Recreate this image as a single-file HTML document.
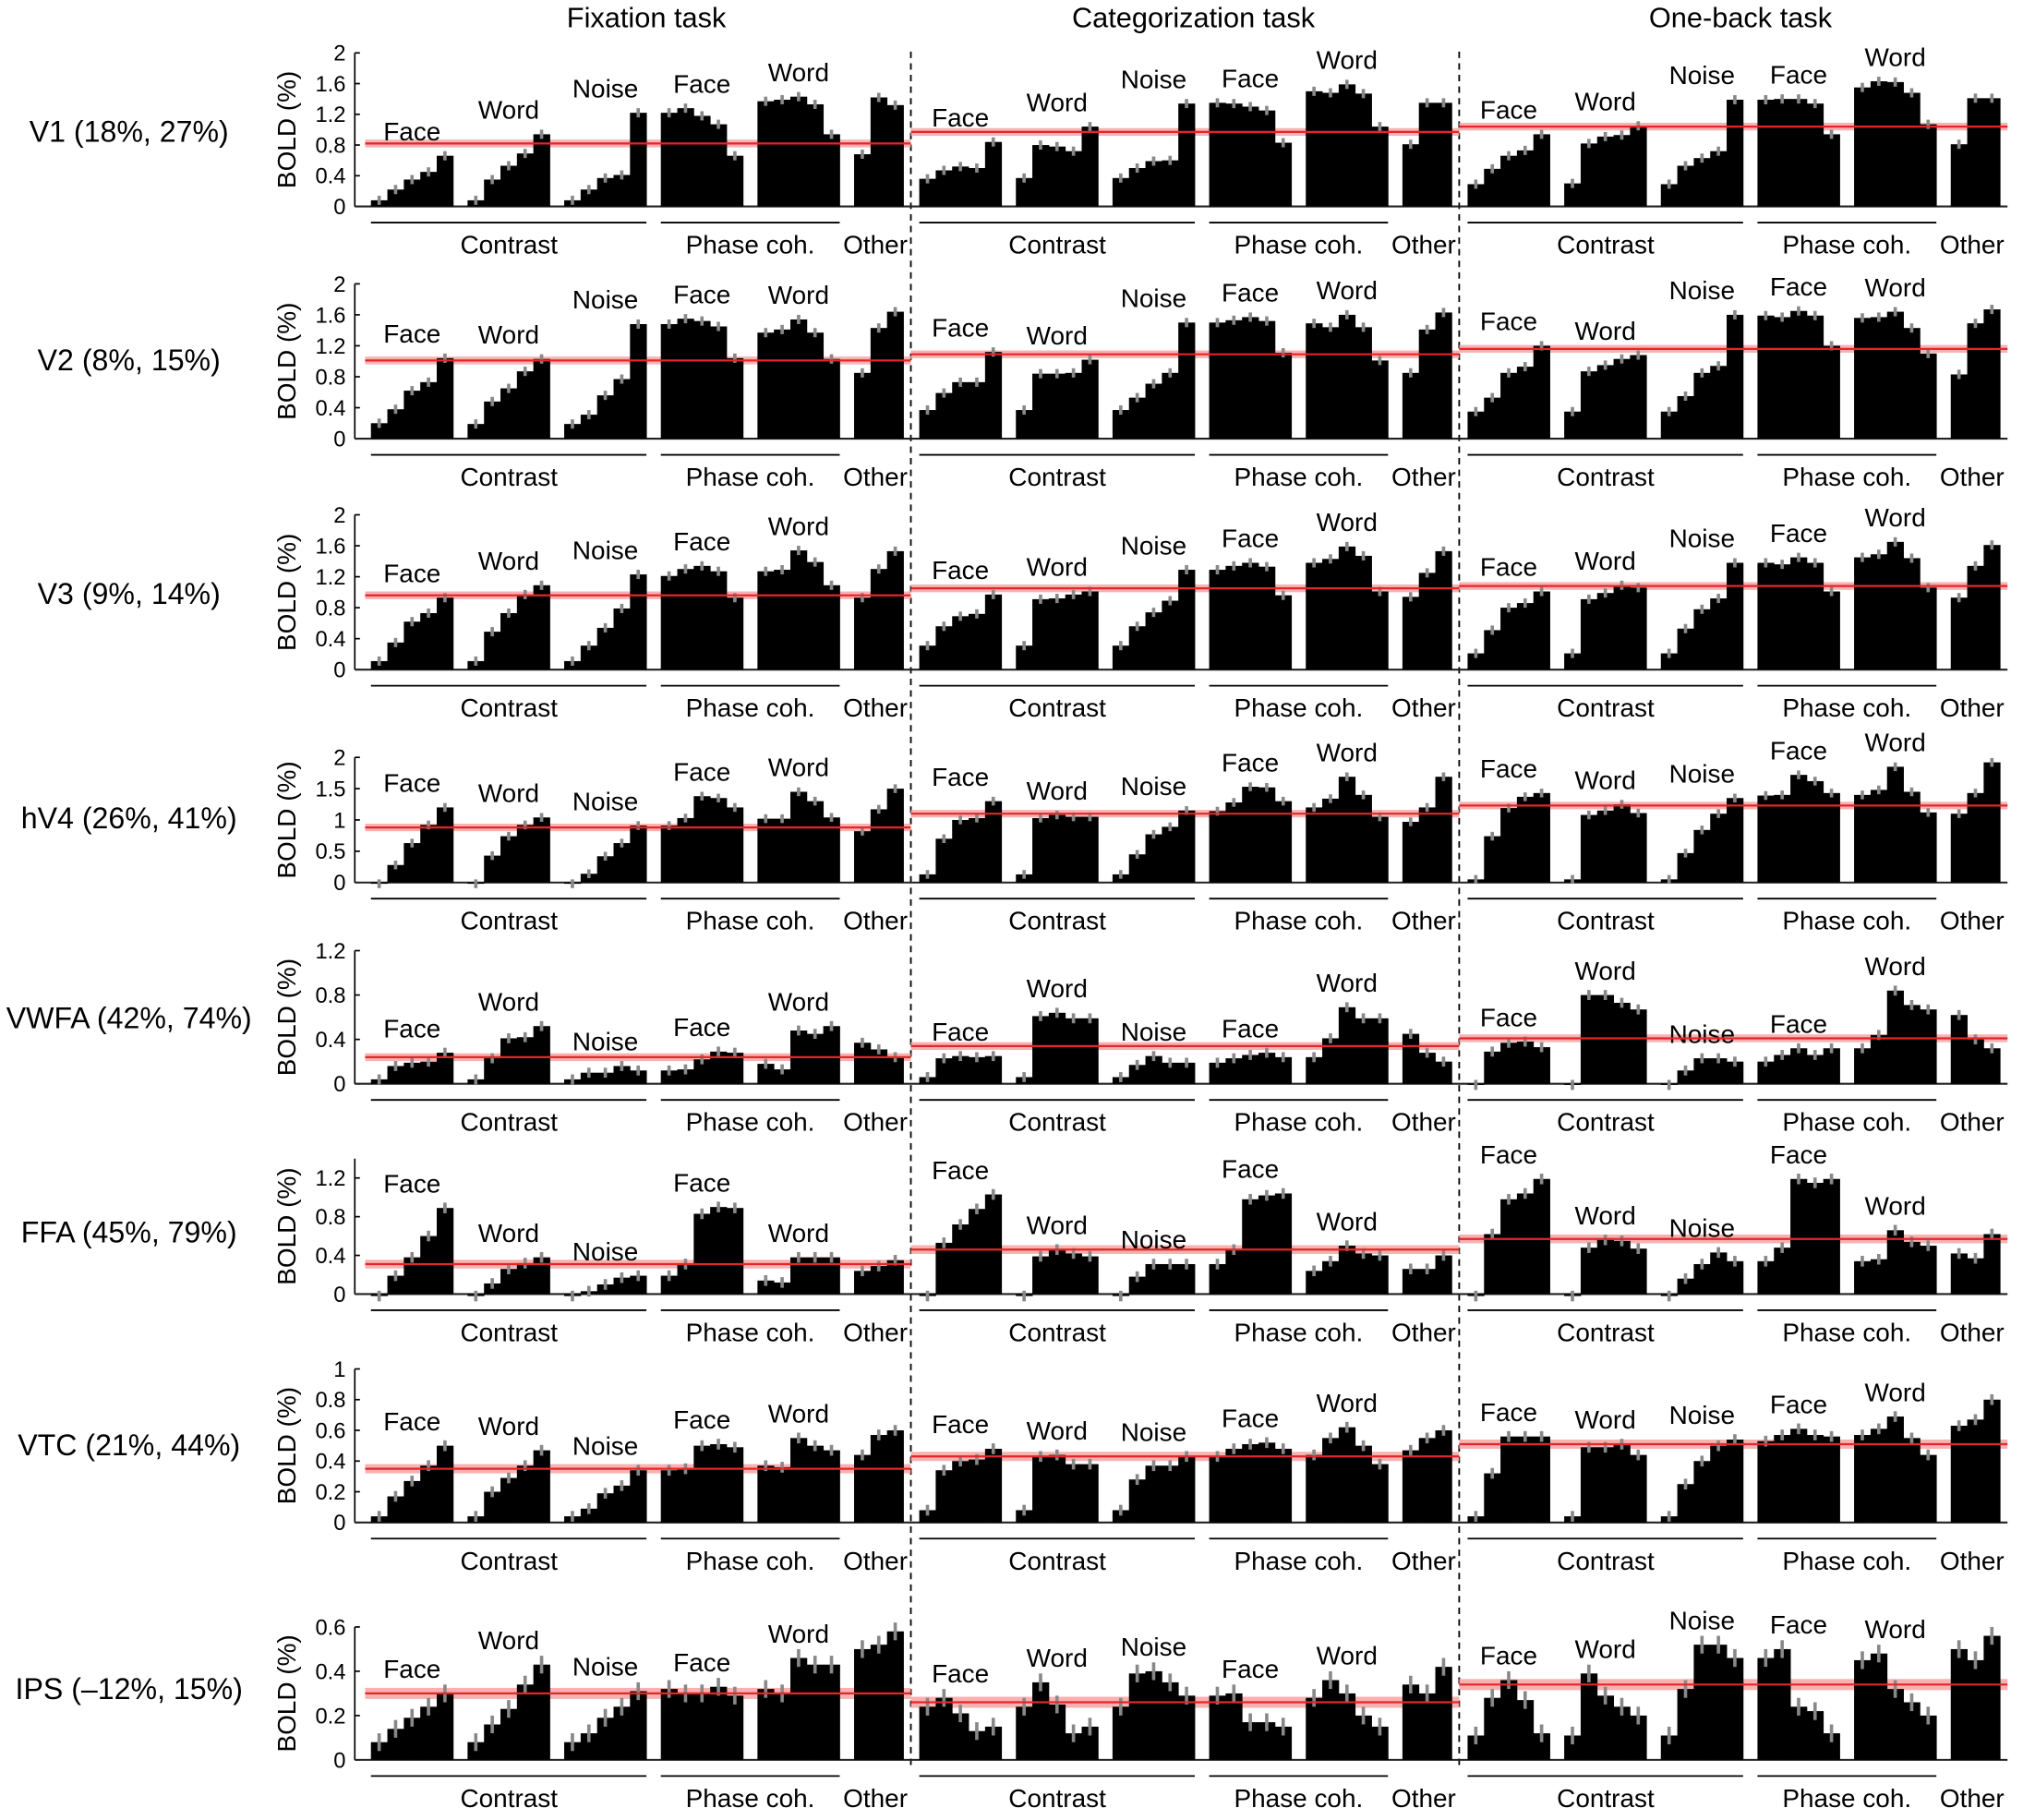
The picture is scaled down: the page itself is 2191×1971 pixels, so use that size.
<!DOCTYPE html>
<html><head><meta charset="utf-8"><style>
html,body{margin:0;padding:0;background:#fff;}
svg{display:block;font-family:"Liberation Sans",Arial,sans-serif;}
</style></head><body>
<svg id="chart" width="2191" height="1971" viewBox="0 0 1568 1410.6" preserveAspectRatio="none" xmlns="http://www.w3.org/2000/svg">
<g id="titles">
<text x="501" y="21" font-size="22" text-anchor="middle">Fixation task</text>
<text x="925" y="21" font-size="22" text-anchor="middle">Categorization task</text>
<text x="1349" y="21" font-size="22" text-anchor="middle">One-back task</text>
</g>
<g id="plot"></g>
</svg>
<script>
// ----- data (BOLD %) -----
const rowNames = ["V1 (18%, 27%)","V2 (8%, 15%)","V3 (9%, 14%)","hV4 (26%, 41%)","VWFA (42%, 74%)","FFA (45%, 79%)","VTC (21%, 44%)","IPS (\u201312%, 15%)"];
const groupLabels = ["Face","Word","Noise","Face","Word",""];
const groupSizes = [5,5,5,5,5,3];

const v1Fix = [.08,.22,.35,.45,.66, .08,.35,.53,.69,.94, .08,.22,.37,.41,1.22, 1.22,1.28,1.18,1.07,.66, 1.37,1.39,1.43,1.33,.94, .68,1.42,1.32];
const v1Cat = [.36,.47,.52,.50,.84, .37,.80,.78,.72,1.04, .37,.50,.59,.60,1.34, 1.35,1.34,1.30,1.25,.83, 1.50,1.48,1.59,1.47,1.04, .81,1.35,1.35];
const v1Ob  = [.29,.49,.66,.73,.94, .30,.82,.91,.93,1.05, .29,.53,.63,.72,1.39, 1.39,1.40,1.40,1.34,.94, 1.55,1.63,1.62,1.48,1.07, .81,1.41,1.41];

const v2Fix = [.20,.38,.62,.73,1.04, .19,.48,.65,.87,1.03, .19,.31,.56,.77,1.48, 1.48,1.55,1.52,1.45,1.04, 1.37,1.41,1.54,1.37,1.03, .85,1.43,1.64];
const v2Cat = [.37,.59,.73,.73,1.12, .37,.84,.84,.85,1.02, .37,.53,.71,.85,1.50, 1.50,1.53,1.57,1.52,1.11, 1.49,1.44,1.60,1.44,1.01, .85,1.41,1.63];
const v2Ob  = [.35,.53,.85,.93,1.20, .35,.87,.95,1.03,1.08, .35,.55,.85,.94,1.60, 1.59,1.57,1.65,1.59,1.20, 1.56,1.57,1.64,1.43,1.10, .83,1.49,1.67];

const v3Fix = [.11,.35,.62,.73,.93, .11,.49,.73,.97,1.09, .11,.31,.54,.79,1.23, 1.21,1.30,1.34,1.27,.93, 1.27,1.29,1.54,1.39,1.09, .93,1.30,1.53];
const v3Cat = [.31,.56,.69,.72,.97, .31,.91,.92,.97,1.01, .31,.56,.74,.89,1.29, 1.29,1.34,1.38,1.33,.96, 1.38,1.43,1.59,1.47,1.01, .94,1.25,1.53];
const v3Ob  = [.21,.51,.80,.86,1.01, .21,.91,.99,1.09,1.06, .21,.53,.78,.92,1.38, 1.38,1.36,1.45,1.38,1.01, 1.45,1.49,1.65,1.44,1.06, .93,1.34,1.61];

const v4Fix = [-.02,.28,.63,.92,1.20, -.02,.43,.74,.92,1.04, -.02,.14,.42,.63,.91, .91,1.03,1.38,1.35,1.20, 1.02,1.02,1.45,1.30,1.04, .82,1.17,1.50];
const v4Cat = [.13,.70,1.00,1.03,1.30, .13,1.03,1.08,1.05,1.05, .13,.45,.77,.89,1.15, 1.14,1.28,1.53,1.52,1.30, 1.20,1.34,1.69,1.40,1.05, .97,1.20,1.69];
const v4Ob  = [.05,.74,1.19,1.37,1.43, .05,1.08,1.15,1.25,1.11, .05,.47,.84,1.10,1.35, 1.39,1.40,1.72,1.62,1.43, 1.40,1.48,1.85,1.45,1.12, 1.10,1.43,1.92];

const vwFix = [.04,.16,.19,.20,.28, .04,.23,.41,.42,.52, .04,.10,.10,.16,.12, .12,.13,.22,.29,.28, .18,.13,.48,.45,.52, .37,.31,.24];
const vwCat = [.06,.23,.25,.24,.25, .06,.61,.64,.59,.59, .06,.17,.25,.19,.19, .19,.23,.26,.28,.24, .24,.41,.69,.59,.59, .45,.28,.20];
const vwOb  = [-.01,.29,.37,.38,.33, -.01,.80,.80,.73,.67, -.01,.12,.23,.23,.20, .20,.26,.32,.26,.32, .32,.44,.84,.71,.67, .62,.40,.32];

const ffFix = [-.02,.19,.38,.60,.89, -.02,.11,.26,.32,.38, -.02,.03,.10,.17,.19, .19,.31,.83,.90,.89, .14,.12,.38,.38,.38, .24,.29,.35];
const ffCat = [-.02,.53,.72,.88,1.03, -.02,.39,.46,.42,.39, -.02,.18,.31,.31,.31, .31,.46,.98,1.02,1.04, .24,.34,.50,.42,.40, .26,.26,.40];
const ffOb  = [-.02,.62,.98,1.04,1.19, -.02,.48,.56,.55,.47, -.02,.16,.31,.43,.34, .34,.48,1.19,1.15,1.19, .34,.36,.66,.54,.50, .42,.37,.62];

const vtFix = [.04,.17,.27,.37,.50, .04,.20,.29,.37,.47, .04,.09,.19,.24,.34, .34,.35,.50,.51,.49, .37,.36,.55,.50,.47, .44,.57,.60];
const vtCat = [.08,.34,.40,.41,.48, .08,.43,.44,.38,.38, .08,.28,.37,.37,.43, .43,.48,.51,.52,.48, .44,.55,.62,.50,.38, .47,.55,.60];
const vtOb  = [.04,.32,.56,.56,.56, .04,.49,.49,.51,.44, .04,.25,.40,.50,.54, .53,.57,.61,.57,.56, .57,.61,.69,.55,.44, .63,.67,.80];

const ipFix = [.08,.14,.19,.24,.30, .08,.16,.23,.34,.43, .08,.12,.19,.24,.31, .32,.30,.30,.33,.29, .32,.30,.46,.43,.43, .50,.52,.58];
const ipCat = [.24,.28,.21,.13,.15, .24,.35,.25,.12,.15, .24,.39,.40,.35,.29, .29,.30,.17,.17,.15, .28,.36,.30,.20,.15, .34,.30,.42];
const ipOb  = [.11,.28,.36,.27,.12, .11,.39,.29,.24,.20, .11,.32,.52,.52,.46, .46,.50,.24,.22,.12, .45,.48,.32,.26,.20, .50,.45,.56];

const meanV1 = [.82,.97,1.04];
const meanV2 = [1.01,1.09,1.16];
const meanV3 = [.96,1.05,1.08];
const meanV4 = [.88,1.10,1.23];
const meanVW = [.24,.34,.41];
const meanFF = [.31,.46,.57];
const meanVT = [.35,.43,.51];
const meanIP = [.30,.26,.34];

const ciRows = [.05,.05,.05,.06,.035,.045,.03,.025];
const seRows = [.06,.06,.06,.07,.045,.055,.035,.04];

const rowData = [[v1Fix,v1Cat,v1Ob],[v2Fix,v2Cat,v2Ob],[v3Fix,v3Cat,v3Ob],[v4Fix,v4Cat,v4Ob],[vwFix,vwCat,vwOb],[ffFix,ffCat,ffOb],[vtFix,vtCat,vtOb],[ipFix,ipCat,ipOb]];
const rowMeans = [meanV1,meanV2,meanV3,meanV4,meanVW,meanFF,meanVT,meanIP];
const rowTicks = [[0,.4,.8,1.2,1.6,2],[0,.4,.8,1.2,1.6,2],[0,.4,.8,1.2,1.6,2],[0,.5,1,1.5,2],[0,.4,.8,1.2],[0,.4,.8,1.2],[0,.2,.4,.6,.8,1],[0,.2,.4,.6]];
const rowAxisMax = [2,2,2,2,1.2,1.4,1,0.6];

// ----- layout -----
const baselines = [160,340,519,684,840,1003,1180,1364];
const pxPerUnit = [59.5,60,60,48.5,86,75,119,171.7];
const rowLabelY = [110,287,468,642,797,963,1128,1317];
const barW = 12.75, groupStep = 74.9, panelStep = 425, firstBarX = 287.5;

const NS = "http://www.w3.org/2000/svg";
const plot = document.getElementById('plot');
function mk(tag, attrs, parent){
  const e = document.createElementNS(NS, tag);
  for (const k in attrs) e.setAttribute(k, attrs[k]);
  (parent||plot).appendChild(e);
  return e;
}
function fmt(v){ return String(+v.toFixed(1)); }

// dashed task separators
[706, 1131].forEach((x,i)=>{
  const l = mk('line',{x1:x,x2:x,y1:40,y2:1372,stroke:'#000','stroke-width':1.3,'stroke-dasharray':'5,4'});
  
  
});

rowData.forEach((tasks, r)=>{
  const base = baselines[r], k = pxPerUnit[r];
  const y = v => base - v*k;
  const g = mk('g',{});
  
  

  const rl = mk('text',{x:100,y:rowLabelY[r],'font-size':23,'text-anchor':'middle'},g);
  rl.textContent = rowNames[r];
  
  

  // y axis
  const ax = mk('line',{x1:275,x2:275,y1:y(rowAxisMax[r]),y2:base,stroke:'#000','stroke-width':1.2},g);
  
  
  rowTicks[r].forEach(t=>{
    mk('line',{x1:275,x2:279,y1:y(t),y2:y(t),stroke:'#000','stroke-width':1.2},g);
    const tl = mk('text',{x:268,y:y(t)+6,'font-size':17,'text-anchor':'end'},g);
    tl.textContent = fmt(t);
    
    
  });
  const yt = mk('text',{x:0,y:0,'font-size':20,'text-anchor':'middle',transform:`translate(229,${base - (rowAxisMax[r]*k)/2}) rotate(-90)`},g);
  yt.textContent = 'BOLD (%)';
  
  

  // x baseline
  const xa = mk('line',{x1:275,x2:1556,y1:base,y2:base,stroke:'#222','stroke-width':1.5},g);
  
  

  tasks.forEach((vals, p)=>{
    const px0 = firstBarX + p*panelStep;
    const m = rowMeans[r][p], ci = ciRows[r];
    const mx1 = p===0 ? 283 : 281 + p*panelStep, mx2 = 706 + p*panelStep;
    const band = mk('rect',{x:mx1,y:y(m+ci),width:mx2-mx1,height:Math.max(3,2*ci*k),fill:'#f7a9a9',opacity:0.9},g);
    
    
    let idx = 0;
    groupSizes.forEach((n, gi)=>{
      const gx = px0 + gi*groupStep;
      let mxv = -1;
      for (let i=0;i<n;i++){
        const v = vals[idx++];
        mxv = Math.max(mxv, v);
        const bx = gx + i*barW;
        const top = Math.min(y(v), base), h = Math.abs(y(v)-base);
        const bar = mk('rect',{x:bx,y:top,width:barW+0.3,height:Math.max(h,0.5),fill:'#000'},g);
        
        
        const se = seRows[r];
        const eb = mk('line',{x1:bx+barW/2,x2:bx+barW/2,y1:y(v+se),y2:y(v-se),stroke:'#888','stroke-width':2.6},g);
        
        
      }
      if (groupLabels[gi]){
        const lt = mk('text',{x:gx+2.5*barW,y:y(mxv)-12,'font-size':20,'text-anchor':'middle'},g);
        lt.textContent = groupLabels[gi];
        
        
      }
    });
    const ml = mk('line',{x1:mx1,x2:mx2,y1:y(m),y2:y(m),stroke:'#e3262a','stroke-width':1.6},g);
    
    

    // category underlines and labels
    const ub = base + 12.5;
    const u1 = mk('line',{x1:px0,x2:px0+2*groupStep+5*barW,y1:ub,y2:ub,stroke:'#000','stroke-width':1.3},g);
    
    
    const u2 = mk('line',{x1:px0+3*groupStep,x2:px0+4*groupStep+5*barW,y1:ub,y2:ub,stroke:'#000','stroke-width':1.3},g);
    
    
    const c1 = mk('text',{x:px0+107,y:ub+24,'font-size':20,'text-anchor':'middle'},g);
    c1.textContent = 'Contrast';
    
    
    const c2 = mk('text',{x:px0+294,y:ub+24,'font-size':20,'text-anchor':'middle'},g);
    c2.textContent = 'Phase coh.';
    
    
    const c3 = mk('text',{x:px0+391,y:ub+24,'font-size':20,'text-anchor':'middle'},g);
    c3.textContent = 'Other';
    
    
  });
});
</script>
</body></html>
